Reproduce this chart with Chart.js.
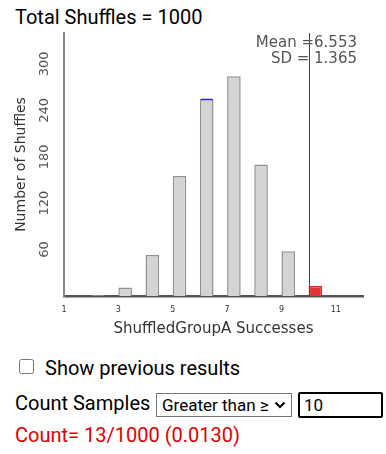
<!DOCTYPE html>
<html>
<head>
<meta charset="utf-8">
<script src="https://cdn.jsdelivr.net/npm/chart.js@4.4.1/dist/chart.umd.min.js"></script>
<style>
  body { margin: 0; width: 386px; height: 454px; position: relative; overflow: hidden; background: #fff; font-family: Roboto, sans-serif; }
  .txt { position: absolute; font-size: 20px; line-height: 20px; white-space: nowrap; color: #000; }
  #chartBox { position: absolute; left: 0; top: 28px; width: 386px; height: 316px; }
  #prev { position: absolute; left: 19px; top: 359px; width: 15px; height: 15px; margin: 0; }
  #mode {
    position: absolute; left: 156px; top: 393px; width: 136px; height: 24px; box-sizing: border-box;
    font: 17px Roboto, sans-serif; color: #000; padding: 0 0 0 5px; margin: 0;
    -webkit-appearance: none; appearance: none; border: 1px solid #767676; border-radius: 0;
    background: #fff url("data:image/svg+xml;utf8,<svg xmlns='http://www.w3.org/2000/svg' width='12' height='8'><path d='M1.5 1.5 L6 6 L10.5 1.5' fill='none' stroke='black' stroke-width='2'/></svg>") no-repeat right 5px center;
  }
  #cut { position: absolute; left: 298px; top: 392px; width: 85px; height: 26px; box-sizing: border-box; border: 2px solid #000; border-radius: 2px; font: 17px Roboto, sans-serif; padding: 0 4px; margin: 0; outline: none; }
</style>
</head>
<body>
<div class="txt" id="total" style="left:15px; top:7px;"></div>
<div id="chartBox"><canvas id="shuffleChart" width="386" height="316"></canvas></div>
<input type="checkbox" id="prev">
<div class="txt" style="left:45px; top:358px;">Show previous results</div>
<div class="txt" style="left:15px; top:393px;">Count Samples</div>
<select id="mode"><option>Greater than ≥</option></select>
<input id="cut" type="text">
<div class="txt" id="countText" style="left:15px; top:425px; color:#e00000;"></div>

<script>
// DATA
const successes = [2, 3, 4, 5, 6, 7, 8, 9, 10];
const shuffleCounts = [1, 11, 53, 155, 255, 284, 170, 58, 13];
const xTickValues = [1, 3, 5, 7, 9, 11];
const yTickValues = [60, 120, 180, 240, 300];
const cutoff = 10;
const totalShuffles = 1000;
const meanText = '6.553';
const sdText = '1.365';
const highlighted = 6; // bar with the blue top

// count samples >= cutoff
let countAbove = 0;
successes.forEach((s, i) => {
  if (s >= cutoff) countAbove += shuffleCounts[i];
});

document.getElementById('total').textContent = 'Total Shuffles = ' + totalShuffles;
document.getElementById('cut').value = String(cutoff);
document.getElementById('countText').textContent =
  'Count= ' + countAbove + '/' + totalShuffles + ' (' + (countAbove / totalShuffles).toFixed(4) + ')';

// bars sit to the right of their integer value (half a unit wide)
const barData = successes.map((s, i) => ({ x: s + 0.25, y: shuffleCounts[i] }));
const fillColors = successes.map(s => s >= cutoff ? 'rgb(228,52,52)' : 'rgb(212,212,212)');
const edgeColors = successes.map(s => s >= cutoff ? 'rgb(215,40,40)' : 'rgb(145,145,145)');

// red cutoff line, stats text, blue top of the highlighted bar
const extras = {
  id: 'extras',
  afterDatasetsDraw(chart) {
    const { ctx, chartArea, scales } = chart;
    const meta = chart.getDatasetMeta(0);
    const hi = successes.indexOf(highlighted);
    ctx.save();
    if (hi >= 0) {
      const bar = meta.data[hi];
      ctx.fillStyle = 'rgb(40,40,235)';
      ctx.fillRect(bar.x - bar.width / 2 + 1, bar.y, bar.width - 2, 1.5);
    }

    // cutoff line
    const cx = Math.round(scales.x.getPixelForValue(cutoff));
    ctx.fillStyle = 'rgb(235,0,0)';
    ctx.fillRect(cx, chartArea.top, 1, chartArea.bottom - chartArea.top);

    ctx.fillStyle = '#555';
    ctx.font = '15px "DejaVu Sans"';
    ctx.textAlign = 'right';
    ctx.textBaseline = 'alphabetic';
    ctx.fillText('Mean =' + meanText, chartArea.right - 6, chartArea.top + 14);
    ctx.fillText('SD = ' + sdText, chartArea.right - 6, chartArea.top + 30);
    ctx.restore();
  }
};

const ctx = document.getElementById('shuffleChart').getContext('2d');

new Chart(ctx, {
  type: 'bar',
  data: {
    datasets: [{
      data: barData,
      backgroundColor: fillColors,
      borderColor: edgeColors,
      borderWidth: 1.5,
      borderSkipped: 'bottom',
      barPercentage: 0.5,
      categoryPercentage: 1
    }]
  },
  options: {
    responsive: false,
    animation: false,
    events: [],
    layout: { padding: { top: 5, right: 23, left: 0, bottom: 0 } },
    plugins: { legend: { display: false }, tooltip: { enabled: false } },
    scales: {
      x: {
        type: 'linear',
        offset: false,
        min: 1,
        max: 12,
        z: 1,
        grid: { display: false, drawTicks: false, offset: false },
        border: { color: '#555', width: 2.5 },
        afterBuildTicks: s => { s.ticks = xTickValues.map(v => ({ value: v })); },
        afterFit: s => { s.height = 48; s.paddingLeft = 0; s.paddingRight = 0; },
        ticks: { color: '#333', font: { family: 'DejaVu Sans', size: 8 }, padding: 9 },
        title: {
          display: true,
          text: 'ShuffledGroupA Successes',
          color: '#333',
          font: { family: 'DejaVu Sans', size: 15 },
          padding: { top: 0, bottom: 6 }
        }
      },
      y: {
        min: 0,
        max: 340,
        grid: { display: false, drawTicks: false },
        border: { color: '#888', width: 2 },
        afterBuildTicks: s => { s.ticks = yTickValues.map(v => ({ value: v })); },
        afterFit: s => { s.width = 64; s.paddingTop = 0; s.paddingBottom = 0; },
        ticks: {
          color: '#555',
          font: { family: 'DejaVu Sans', size: 13 },
          minRotation: 90,
          maxRotation: 90,
          crossAlign: 'center',
          padding: 7
        },
        title: {
          display: true,
          text: 'Number of Shuffles',
          color: '#333',
          font: { family: 'DejaVu Sans', size: 14 },
          padding: { top: 13, bottom: 0 }
        }
      }
    }
  },
  plugins: [extras]
});
</script>
</body>
</html>
